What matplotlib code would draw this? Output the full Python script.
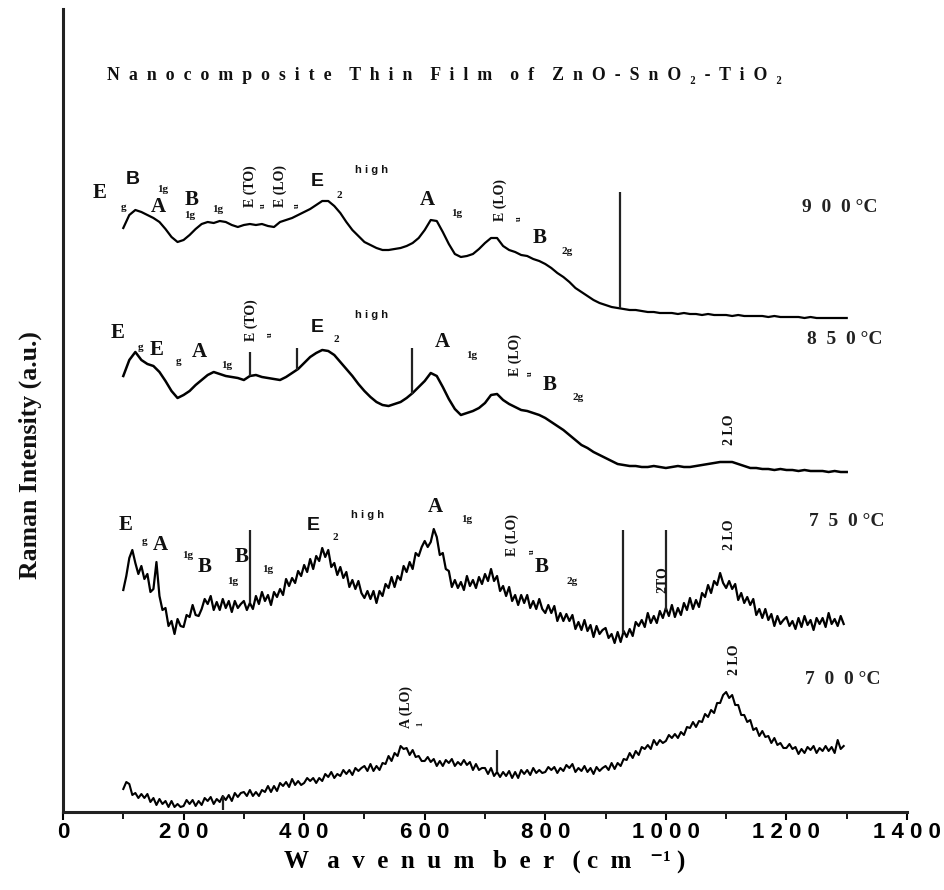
import numpy as np
import matplotlib
matplotlib.use("Agg")
import matplotlib.pyplot as plt
from matplotlib.ticker import MultipleLocator

SERIF = ["Liberation Serif", "DejaVu Serif"]
SANS = ["Liberation Sans", "DejaVu Sans"]

# Raman shift sampling (cm^-1)
wn_coarse = np.arange(100, 1301, 10)
wn_fine = np.arange(100, 1296, 5)

# Spectra, offset-stacked intensities (a.u.)
int_900 = [584, 597, 602, 600, 597, 594, 590, 583, 575, 570,
           572, 577, 583, 588, 590, 589, 591, 590, 587, 585,
           587, 588, 587, 588, 586, 585, 590, 592, 594, 597,
           600, 603, 607, 611, 611, 606, 599, 590, 582, 576,
           570, 567, 564, 562, 562, 563, 564, 566, 569, 574,
           582, 592, 591, 580, 568, 558, 555, 556, 558, 563,
           569, 574, 574, 566, 562, 560, 557, 556, 553, 551,
           548, 544, 539, 535, 530, 524, 520, 516, 512, 509,
           507, 505, 504, 503, 502, 502, 501, 500, 500, 499,
           499, 499, 498, 499, 498, 498, 497, 498, 497, 497,
           497, 496, 497, 496, 496, 496, 496, 495, 496, 495,
           495, 495, 495, 494, 495, 494, 494, 494, 494, 494, 494]

int_850 = [436, 452, 460, 452, 448, 446, 440, 431, 421, 414,
           417, 421, 427, 432, 437, 440, 438, 436, 435, 434,
           432, 436, 437, 435, 434, 433, 432, 435, 439, 443,
           449, 455, 459, 462, 461, 457, 450, 443, 436, 428,
           421, 415, 410, 407, 406, 408, 410, 414, 419, 425,
           431, 439, 436, 425, 413, 403, 397, 399, 401, 404,
           409, 417, 418, 412, 408, 405, 402, 401, 399, 397,
           394, 390, 386, 382, 377, 372, 367, 364, 360, 357,
           354, 351, 348, 347, 346, 346, 345, 345, 346, 345,
           344, 345, 346, 345, 345, 346, 347, 348, 349, 350,
           350, 350, 348, 346, 344, 344, 343, 343, 342, 343,
           342, 342, 341, 342, 341, 341, 341, 340, 341, 340, 340]

int_750 = [222, 236, 254, 262, 249, 238, 246, 233, 238, 220, 223, 250, 216, 202, 204, 186, 191, 178, 193, 186,
           185, 197, 195, 207, 197, 196, 203, 213, 208, 216, 202, 210, 202, 213, 204, 211, 200, 211, 204, 208,
           211, 202, 209, 203, 216, 208, 220, 211, 217, 207, 220, 215, 223, 217, 233, 226, 234, 229, 241, 236,
           247, 240, 253, 243, 256, 251, 264, 255, 262, 245, 249, 237, 245, 234, 240, 225, 232, 223, 231, 219,
           214, 221, 213, 221, 209, 221, 216, 228, 224, 235, 225, 236, 232, 246, 240, 250, 243, 259, 256, 265,
           271, 265, 270, 283, 275, 257, 259, 243, 241, 225, 232, 224, 230, 222, 236, 226, 232, 224, 235, 228,
           238, 231, 243, 231, 236, 221, 226, 216, 225, 211, 217, 207, 217, 209, 217, 204, 211, 203, 213, 203,
           199, 207, 199, 206, 191, 199, 191, 198, 191, 197, 183, 190, 182, 192, 181, 187, 175, 186, 178, 182,
           184, 174, 178, 169, 180, 170, 181, 175, 183, 176, 190, 186, 192, 185, 199, 189, 196, 189, 201, 194,
           204, 196, 207, 195, 204, 197, 209, 202, 214, 203, 212, 205, 219, 215, 227, 219, 231, 227, 239, 229,
           224, 231, 223, 228, 212, 219, 209, 215, 207, 213, 197, 203, 194, 203, 192, 198, 186, 196, 188, 192,
           195, 186, 191, 183, 194, 185, 196, 187, 192, 182, 194, 188, 194, 185, 199, 188, 193, 186, 196, 188]

int_700 = [23, 30, 28, 17, 19, 14, 18, 14, 18, 10, 14, 7, 13, 8, 11, 5, 11, 5, 8, 5,
           6, 12, 8, 12, 6, 11, 7, 14, 11, 15, 8, 13, 10, 16, 12, 17, 11, 19, 15, 19,
           20, 16, 22, 16, 20, 16, 22, 20, 26, 20, 26, 21, 29, 26, 30, 25, 33, 27, 31, 27,
           29, 34, 31, 34, 29, 34, 31, 38, 35, 40, 34, 38, 36, 42, 38, 42, 37, 44, 41, 44,
           46, 41, 48, 41, 46, 42, 49, 48, 56, 51, 59, 56, 66, 63, 64, 57, 62, 55, 56, 51,
           51, 55, 50, 53, 46, 51, 46, 52, 49, 53, 46, 50, 47, 52, 47, 50, 42, 48, 42, 44,
           44, 38, 44, 36, 40, 35, 40, 36, 41, 34, 40, 34, 42, 38, 42, 37, 44, 39, 42, 39,
           40, 45, 42, 45, 39, 44, 41, 47, 44, 48, 40, 44, 41, 46, 40, 44, 38, 45, 41, 44,
           46, 42, 49, 43, 49, 46, 53, 52, 59, 54, 61, 57, 65, 63, 67, 63, 72, 67, 72, 69,
           71, 77, 74, 78, 74, 80, 77, 85, 84, 90, 85, 91, 90, 98, 95, 102, 99, 109, 109, 117,
           120, 114, 117, 107, 107, 97, 97, 90, 92, 82, 84, 76, 81, 75, 76, 69, 74, 67, 69, 64,
           64, 68, 63, 65, 58, 63, 59, 65, 62, 66, 59, 64, 61, 66, 61, 65, 59, 72, 63, 66]

# Single-channel spikes: position and far end of each line
spike_wn_900 = [924]
spike_end_900 = [620]
spike_wn_850 = [310, 388, 579]
spike_end_850 = [460, 464, 464]
spike_wn_750 = [310, 929, 1001]
spike_end_750 = [282, 282, 282]
spike_wn_700 = [720, 265]
spike_end_700 = [62, 2]

# Mode assignments: text, position (cm^-1, a.u.), style
label_text = ["E", "g", "B", "A", "1g", "B", "1g", "1g", "E (TO)", "u", "E (LO)", "u",
              "E", "2", "h i g h", "A", "1g", "E (LO)", "u", "B", "2g",
              "E", "g", "E", "g", "A", "1g", "E (TO)", "u", "E", "2", "h i g h",
              "A", "1g", "E (LO)", "u", "B", "2g", "2 LO",
              "E", "g", "A", "1g", "B", "1g", "B", "1g", "E", "2", "h i g h",
              "A", "1g", "E (LO)", "u", "B", "2g", "2TO", "2 LO",
              "A (LO)", "1", "2 LO"]
label_wn = [61, 100, 116, 158, 166, 214, 211, 257, 310, 332, 361, 388,
            421, 459, 512, 604, 653, 725, 757, 791, 836,
            91, 128, 156, 191, 227, 272, 313, 344, 421, 454, 512,
            630, 678, 750, 775, 808, 854, 1106,
            103, 136, 161, 207, 235, 282, 297, 340, 415, 451, 506,
            617, 670, 746, 777, 794, 844, 995, 1106,
            570, 592, 1114]
label_h = [619, 604, 632, 605, 622, 612, 597, 602, 626, 606, 626, 606,
           630, 617, 642, 612, 599, 612, 593, 574, 560,
           479, 464, 462, 450, 460, 447, 492, 477, 485, 472, 497,
           470, 457, 457, 438, 427, 414, 382,
           287, 270, 267, 257, 245, 230, 255, 242, 287, 274, 297,
           305, 292, 277, 260, 245, 230, 232, 277,
           105, 88, 152]
label_kind = ["big", "sub", "sans", "big", "sub", "big", "sub", "sub", "rot", "rotsub", "rot", "rotsub",
              "sans", "sub", "hi", "big", "sub", "rot", "rotsub", "big", "sub",
              "big", "sub", "big", "sub", "big", "sub", "rot", "rotsub", "sans", "sub", "hi",
              "big", "sub", "rot", "rotsub", "big", "sub", "rot",
              "big", "sub", "big", "sub", "big", "sub", "big", "sub", "sans", "sub", "hi",
              "big", "sub", "rot", "rotsub", "big", "sub", "rot", "rot",
              "rot", "rotsub", "rot"]

temp_text = ["9  0  0 °C", "8  5  0 °C", "7  5  0 °C", "7  0  0 °C"]
temp_wn = [1289, 1297, 1300, 1293]
temp_h = [605, 472, 290, 132]

tick_values = [0, 200, 400, 600, 800, 1000, 1200, 1400]
tick_labels = ["0", "2 0 0", "4 0 0", "6 0 0", "8 0 0", "1 0 0 0", "1 2 0 0", "1 4 0 0"]

fig = plt.figure(figsize=(9.44, 8.9), dpi=100)
ax = fig.add_axes([63 / 944, 78 / 890, 844 / 944, 803 / 890])

ax.plot(wn_coarse, int_900, color="black", lw=1.6)
ax.plot(wn_coarse, int_850, color="black", lw=1.8)
ax.plot(wn_fine, int_750, color="black", lw=1.6)
ax.plot(wn_fine, int_700, color="black", lw=1.5)

for wn, curve, sw, se in [(wn_coarse, int_900, spike_wn_900, spike_end_900),
                          (wn_coarse, int_850, spike_wn_850, spike_end_850),
                          (wn_fine, int_750, spike_wn_750, spike_end_750),
                          (wn_fine, int_700, spike_wn_700, spike_end_700)]:
    base = np.interp(sw, wn, curve)
    ax.vlines(sw, base, se, color="#222222", lw=1.6)

styles = {
    "big": dict(family=SERIF, fontsize=15, fontweight="bold"),
    "sans": dict(family=SANS, fontsize=14, fontweight="bold"),
    "sub": dict(family=SERIF, fontsize=8, fontweight="bold"),
    "hi": dict(family=SANS, fontsize=8, fontweight="bold"),
    "rot": dict(family=SERIF, fontsize=10, fontweight="bold", rotation=90),
    "rotsub": dict(family=SERIF, fontsize=6, fontweight="bold", rotation=90),
}
for s, x, y, k in zip(label_text, label_wn, label_h, label_kind):
    ax.text(x, y, s, ha="center", va="center", color="#111111", **styles[k])

for s, x, y in zip(temp_text, temp_wn, temp_h):
    ax.text(x, y, s, ha="center", va="center", family=SERIF, fontsize=14,
            fontweight="bold", color="#222222")

ax.text(633, 737,
        "N  a  n  o  c  o  m  p  o  s  i  t  e    T  h  i  n    F  i  l  m    o  f    "
        "Z  n  O  -  S  n  O  ₂  -  T  i  O  ₂",
        ha="center", va="center", family=SERIF, fontsize=12.8, fontweight="bold", color="#111111")

ax.set_xlim(0, 1400)
ax.set_ylim(0, 803)
for side in ["top", "right"]:
    ax.spines[side].set_visible(False)
for side in ["left", "bottom"]:
    ax.spines[side].set_linewidth(2.2)
    ax.spines[side].set_color("#222222")

ax.set_yticks([])
ax.set_xticks(tick_values)
ax.set_xticklabels(tick_labels, family=SANS, fontsize=16, fontweight="bold")
ax.xaxis.set_minor_locator(MultipleLocator(100))
ax.tick_params(axis="x", which="major", direction="out", length=6, width=1.5, pad=1)
ax.tick_params(axis="x", which="minor", direction="out", length=5, width=1.3)

ax.set_xlabel("W   a  v  e  n  u  m   b  e  r   ( c  m   ⁻¹ )", family=SERIF, fontsize=18,
              fontweight="bold", labelpad=5)
fig.text(30 / 944, 1 - 455 / 890, "Raman Intensity (a.u.)", rotation=90, ha="center",
         va="center", family=SERIF, fontsize=18.5, fontweight="bold", color="#111111")

fig.savefig("out.png", dpi=100)
